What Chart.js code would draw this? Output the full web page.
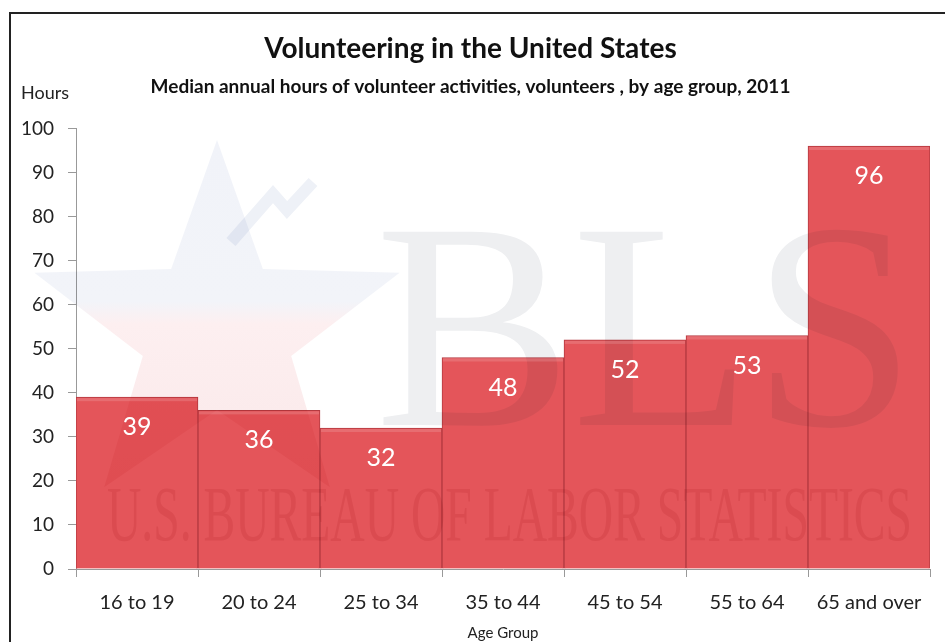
<!DOCTYPE html>
<html>
<head>
<meta charset="utf-8">
<script src="https://cdn.jsdelivr.net/npm/chart.js@4"></script>
<style>
  html, body { margin: 0; padding: 0; background: #fff; overflow: hidden; width: 945px; height: 642px; }
  #frame { position: absolute; left: 9px; top: 12px; width: 1000px; height: 700px; border-left: 2px solid #222; border-top: 2px solid #222; }
  #chart { position: absolute; left: 11px; top: 14px; }
</style>
</head>
<body>
<div id="frame"></div>
<canvas id="chart" width="934" height="628"></canvas>
<script>
// Chart data
const ageGroups = ['16 to 19', '20 to 24', '25 to 34', '35 to 44', '45 to 54', '55 to 64', '65 and over'];
const medianHours = [39, 36, 32, 48, 52, 53, 96];
const yTicks = [0, 10, 20, 30, 40, 50, 60, 70, 80, 90, 100];

const FONT = 'Lato, "Open Sans", sans-serif';

// Faint BLS logo behind the bars (multiplied so it shows through them)
const watermark = {
    id: 'watermark',
    afterDatasetsDraw(chart) {
        const ctx = chart.ctx;
        ctx.save();
        ctx.globalCompositeOperation = 'multiply';

        // star
        const cx = 206, cy = 318, ro = 192, ri = 78;
        const grad = ctx.createLinearGradient(0, cy - ro, 0, cy + ro);
        grad.addColorStop(0, '#f1f3f9');
        grad.addColorStop(0.42, '#f2f4f9');
        grad.addColorStop(0.48, '#fdeff0');
        grad.addColorStop(1, '#f9e6e7');
        ctx.beginPath();
        for (let i = 0; i < 10; i++) {
            const r = i % 2 === 0 ? ro : ri;
            const a = -Math.PI / 2 + i * Math.PI / 5;
            const px = cx + r * Math.cos(a), py = cy + r * Math.sin(a);
            if (i === 0) ctx.moveTo(px, py); else ctx.lineTo(px, py);
        }
        ctx.closePath();
        ctx.fillStyle = grad;
        ctx.fill();

        // little trend arrow
        ctx.strokeStyle = '#eef1f7';
        ctx.lineWidth = 12;
        ctx.beginPath();
        ctx.moveTo(220, 228);
        ctx.lineTo(262, 180);
        ctx.lineTo(276, 196);
        ctx.lineTo(302, 168);
        ctx.stroke();

        // BLS letters
        ctx.fillStyle = '#eeeff1';
        ctx.font = '295px "Liberation Serif", serif';
        ctx.textBaseline = 'alphabetic';
        ctx.textAlign = 'left';
        ctx.fillText('BLS', 364, 411, 545);

        // bureau name
        ctx.fillStyle = '#f5e0e2';
        ctx.font = '78px "Liberation Serif", serif';
        ctx.fillText('U.S. BUREAU OF LABOR STATISTICS', 96, 526, 805);
        ctx.restore();

        // bevel highlight on bar tops
        const meta = chart.getDatasetMeta(0);
        ctx.save();
        meta.data.forEach(bar => {
            const w = bar.width;
            ctx.fillStyle = 'rgba(255,255,255,0.14)';
            ctx.fillRect(bar.x - w / 2 + 1, bar.y + 1, w - 2, 3);
        });
        ctx.restore();
    }
};

// Value labels inside the bars + "Hours" caption
const valueLabels = {
    id: 'valueLabels',
    afterDraw(chart) {
        const ctx = chart.ctx;
        const meta = chart.getDatasetMeta(0);
        ctx.save();
        ctx.fillStyle = '#ffffff';
        ctx.font = '25px ' + FONT;
        ctx.textAlign = 'center';
        ctx.textBaseline = 'middle';
        meta.data.forEach((bar, i) => {
            ctx.fillText(String(medianHours[i]), bar.x, bar.y + 30);
        });

        const area = chart.chartArea;
        ctx.fillStyle = '#222';
        ctx.font = '18px ' + FONT;
        ctx.textAlign = 'left';
        ctx.fillText('Hours', area.left - 55, area.top - 35);
        ctx.restore();
    }
};

const ctx = document.getElementById('chart').getContext('2d');
new Chart(ctx, {
    type: 'bar',
    data: {
        labels: ageGroups,
        datasets: [{
            label: 'Median annual hours',
            data: medianHours,
            backgroundColor: '#e4555a',
            borderColor: '#b43a40',
            borderWidth: 1,
            barPercentage: 1,
            categoryPercentage: 1
        }]
    },
    options: {
        responsive: false,
        animation: false,
        layout: { padding: { left: 0, right: 15, top: 0, bottom: 0 } },
        scales: {
            x: {
                afterFit: scale => { scale.height = 73; },
                grid: { drawOnChartArea: false, offset: true, tickLength: 8, color: '#999' },
                border: { color: '#999' },
                ticks: { color: '#222', font: { family: FONT, size: 20 }, padding: 14, maxRotation: 0 },
                title: { display: true, text: 'Age Group', color: '#222', font: { family: FONT, size: 15 }, padding: 0 }
            },
            y: {
                min: 0,
                max: 100,
                afterFit: scale => { scale.width = 65; },
                afterBuildTicks: scale => { scale.ticks = yTicks.map(v => ({ value: v })); },
                grid: { drawOnChartArea: false, tickLength: 8, color: '#999' },
                border: { color: '#999' },
                ticks: { color: '#222', font: { family: FONT, size: 19 }, padding: 14 }
            }
        },
        plugins: {
            legend: { display: false },
            tooltip: { enabled: false },
            title: {
                display: true,
                text: 'Volunteering in the United States',
                color: '#111',
                font: { family: FONT, size: 28, weight: 'bold' },
                padding: { top: 18, bottom: 10 }
            },
            subtitle: {
                display: true,
                text: 'Median annual hours of volunteer activities, volunteers , by age group, 2011',
                color: '#111',
                font: { family: FONT, size: 19, weight: 'bold' },
                padding: { top: 0, bottom: 30 }
            }
        }
    },
    plugins: [watermark, valueLabels]
});
</script>
</body>
</html>
